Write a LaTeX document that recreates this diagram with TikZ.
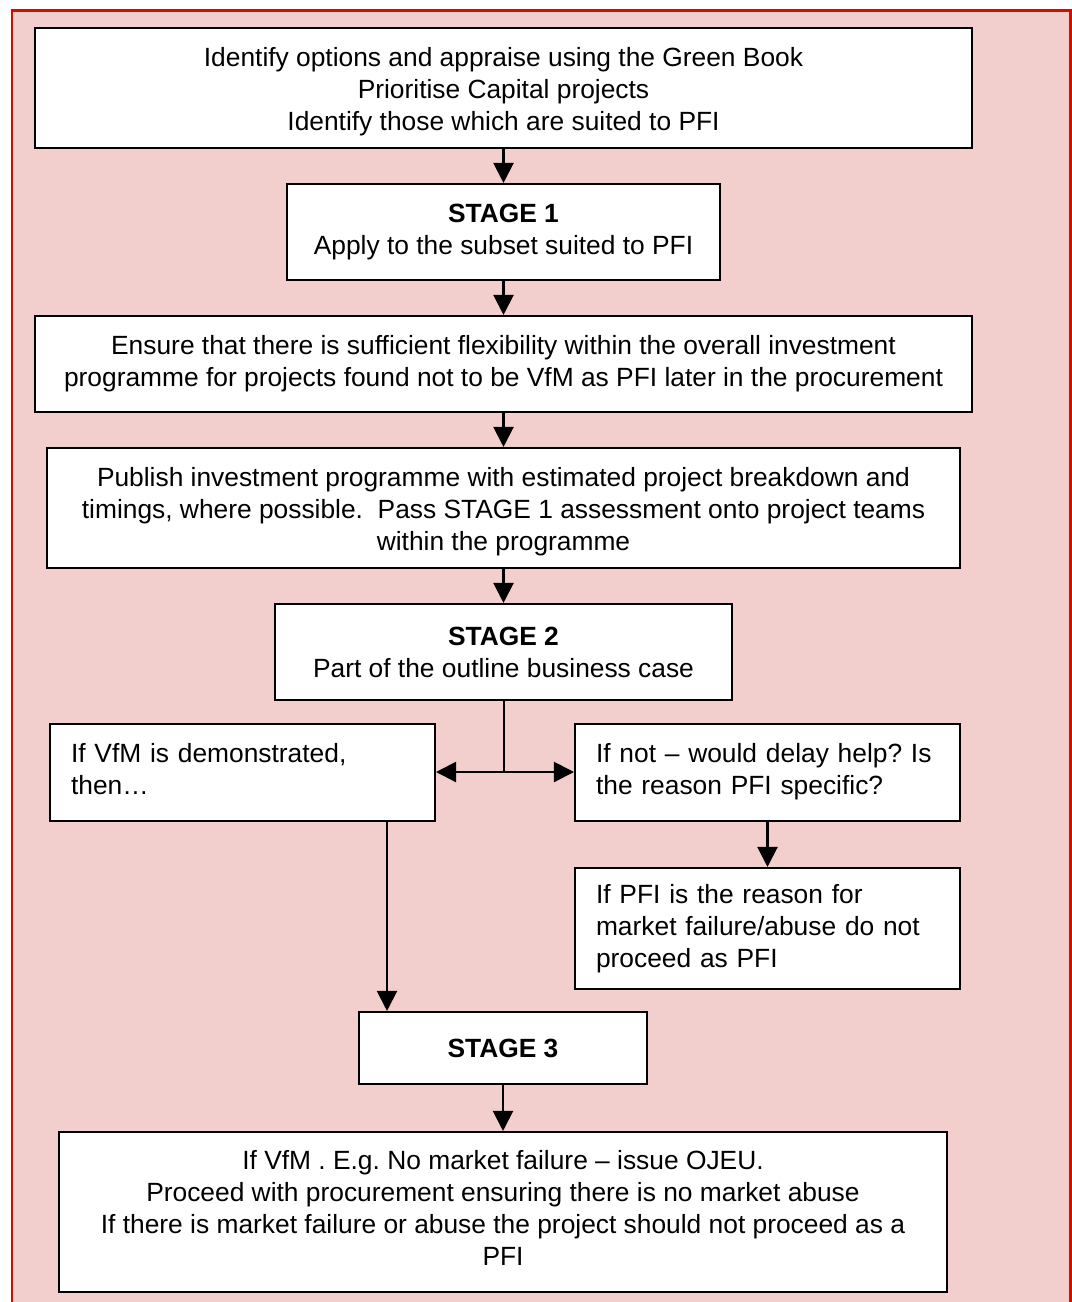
\documentclass[tikz,border=0pt]{standalone}
\usepackage{fontspec}
\setmainfont{Liberation Sans}
\usetikzlibrary{arrows.meta}

\definecolor{framered}{RGB}{204,16,0}
\definecolor{pinkbg}{RGB}{242,207,204}

\tikzset{
  box/.style={draw=black, line width=1.2pt, fill=white, inner sep=0pt, align=center,
    font=\fontsize{15}{18.2}\selectfont},
  leftbox/.style={box, align=left, inner xsep=0.42cm, text width=6.86cm, minimum height=1.94cm},
  flow/.style={line width=1.2pt, -{Triangle[length=0.4cm,width=0.4cm]}}
}

\begin{document}
\frenchspacing
\begin{tikzpicture}[x=0.02cm, y=-0.02cm]

\useasboundingbox (0,0) rectangle (1072,1302);
\fill[pinkbg] (12,10) rectangle (1070,1302);
\draw[framered, line width=0.06cm] (12,1302) -- (12,10) -- (1070,10) -- (1070,1302);

\node[box, minimum width=18.74cm, minimum height=2.4cm] (green) at (503.5,88)
  {\\[-0.12cm]Identify options and appraise using the Green Book\\Prioritise Capital projects\\Identify those which are suited to PFI};
\node[box, minimum width=8.66cm, minimum height=1.92cm] (s1) at (503.5,232)
  {\textbf{STAGE 1}\\Apply to the subset suited to PFI};
\node[box, minimum width=18.74cm, minimum height=1.92cm] (flex) at (503.5,364)
  {Ensure that there is sufficient flexibility within the overall investment\\programme for projects found not to be VfM as PFI later in the procurement};
\node[box, minimum width=18.26cm, minimum height=2.4cm] (pub) at (503.5,508)
  {\\[-0.1cm]Publish investment programme with estimated project breakdown and\\timings, where possible.\ \ Pass STAGE 1 assessment onto project teams\\within the programme};
\node[box, minimum width=9.14cm, minimum height=1.92cm] (s2) at (503.5,652)
  {\textbf{STAGE 2}\\Part of the outline business case};

\node[leftbox] (vfm) at (242.5,772.5) {If VfM is demonstrated,\\then…\\[-0.48cm]\mbox{}};
\node[leftbox] (ifnot) at (767.5,772.5) {If not – would delay help? Is\\the reason PFI specific?\\[-0.48cm]\mbox{}};
\node[leftbox, minimum height=2.42cm] (ifpfi) at (767.5,928.5)
  {If PFI is the reason for\\market failure/abuse do not\\proceed as PFI};

\node[box, minimum width=5.76cm, minimum height=1.44cm] (s3) at (503,1048) {\textbf{STAGE 3}};
\node[box, minimum width=17.76cm, minimum height=3.2cm] (ojeu) at (503,1212)
  {If VfM . E.g. No market failure – issue OJEU.\\Proceed with procurement ensuring there is no market abuse\\If there is market failure or abuse the project should not proceed as a\\PFI\\[-0.48cm]};

\coordinate (split) at (504,772);
\coordinate (drop) at (387,821);

\draw[flow] (green) -- (s1);
\draw[flow] (s1) -- (flex);
\draw[flow] (flex) -- (pub);
\draw[flow] (pub) -- (s2);
\draw[line width=1.2pt] (s2.south -| split) -- (split);
\draw[flow] (split) -- (vfm.east |- split);
\draw[flow] (split) -- (ifnot.west |- split);
\draw[flow] (ifnot) -- (ifpfi);
\draw[flow] (drop) -- (drop |- s3.north);
\draw[flow] (s3) -- (ojeu);

\end{tikzpicture}
\end{document}
